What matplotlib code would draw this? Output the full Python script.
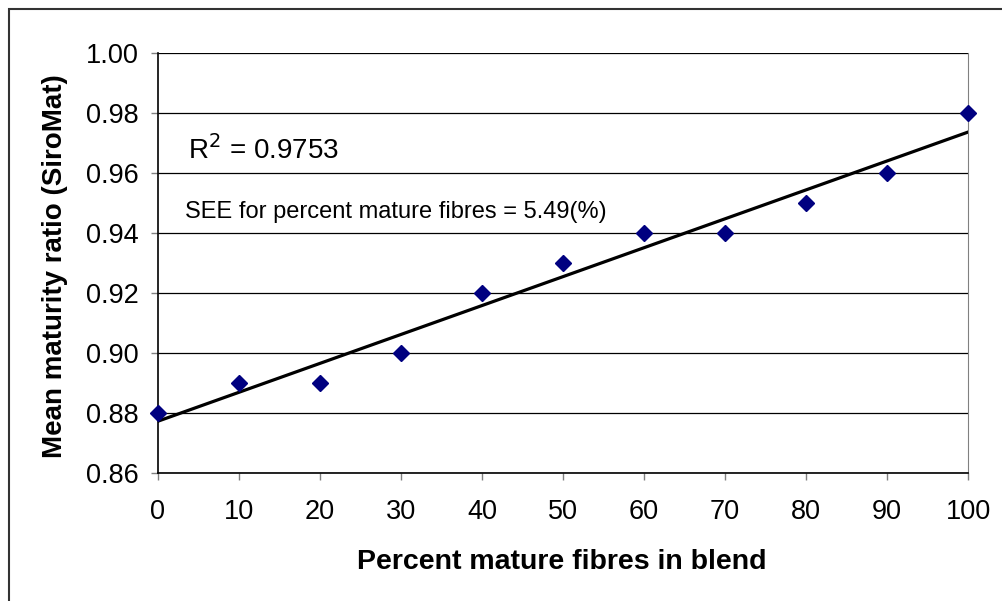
import numpy as np
import matplotlib
matplotlib.use("Agg")
import matplotlib.pyplot as plt
from matplotlib.patches import Rectangle

plt.rcParams['font.family'] = ['Liberation Sans', 'DejaVu Sans']

# Blend composition and measured maturity ratio
pct_mature = [0, 10, 20, 30, 40, 50, 60, 70, 80, 90, 100]
maturity_ratio = [0.88, 0.89, 0.89, 0.90, 0.92, 0.93, 0.94, 0.94, 0.95, 0.96, 0.98]
y_ticks = [0.86, 0.88, 0.90, 0.92, 0.94, 0.96, 0.98, 1.00]
x_ticks = [0, 10, 20, 30, 40, 50, 60, 70, 80, 90, 100]

W, H = 1003, 601
fig = plt.figure(figsize=(W / 100, H / 100), dpi=100)
ax = fig.add_axes([158 / W, 128 / H, 810 / W, 420 / H])

# Linear trendline
slope, intercept = np.polyfit(pct_mature, maturity_ratio, 1)
xs = np.array([0, 100])
ax.plot(xs, slope * xs + intercept, color='black', lw=2.3, zorder=3)

ax.plot(pct_mature, maturity_ratio, linestyle='none', marker='D',
        markersize=8.5, color='#000080', zorder=4, clip_on=False)

ax.set_xlim(0, 100)
ax.set_ylim(0.86, 1.00)
ax.set_xticks(x_ticks)
ax.set_yticks(y_ticks)
ax.set_yticklabels([f"{v:.2f}" for v in y_ticks])
ax.yaxis.grid(True, color='black', lw=0.9)
ax.set_axisbelow(True)

ax.spines['top'].set_visible(False)
ax.spines['right'].set_color('#808080')
ax.spines['left'].set_linewidth(1.2)
ax.spines['bottom'].set_linewidth(1.2)

ax.tick_params(axis='both', direction='out', length=5, width=1,
               color='#808080', labelsize=19.5)
ax.tick_params(axis='y', pad=9)
ax.tick_params(axis='x', pad=14)

ax.set_xlabel('Percent mature fibres in blend', fontsize=20.5, fontweight='bold')
ax.set_ylabel('Mean maturity ratio (SiroMat)', fontsize=20, fontweight='bold')
ax.xaxis.label.set_va('center')
ax.yaxis.label.set_va('center')
ax.xaxis.set_label_coords((562 - 158) / 810, (473 - 562) / 420)
ax.yaxis.set_label_coords((55 - 158) / 810, (473 - 266) / 420)

fig.text(188 / W, 1 - 150 / H, r'R$^2$ = 0.9753', fontsize=20,
         va='center', ha='left')
fig.text(185 / W, 1 - 212 / H, 'SEE for percent mature fibres = 5.49(%)',
         fontsize=17, va='center', ha='left')

# Chart-area frame
fig.patches.append(Rectangle((9 / W, -0.2), 1.5, 1.2 - 9 / H,
                             transform=fig.transFigure, fill=False,
                             edgecolor='#333333', lw=1.5))

fig.savefig('out.png', dpi=100)
